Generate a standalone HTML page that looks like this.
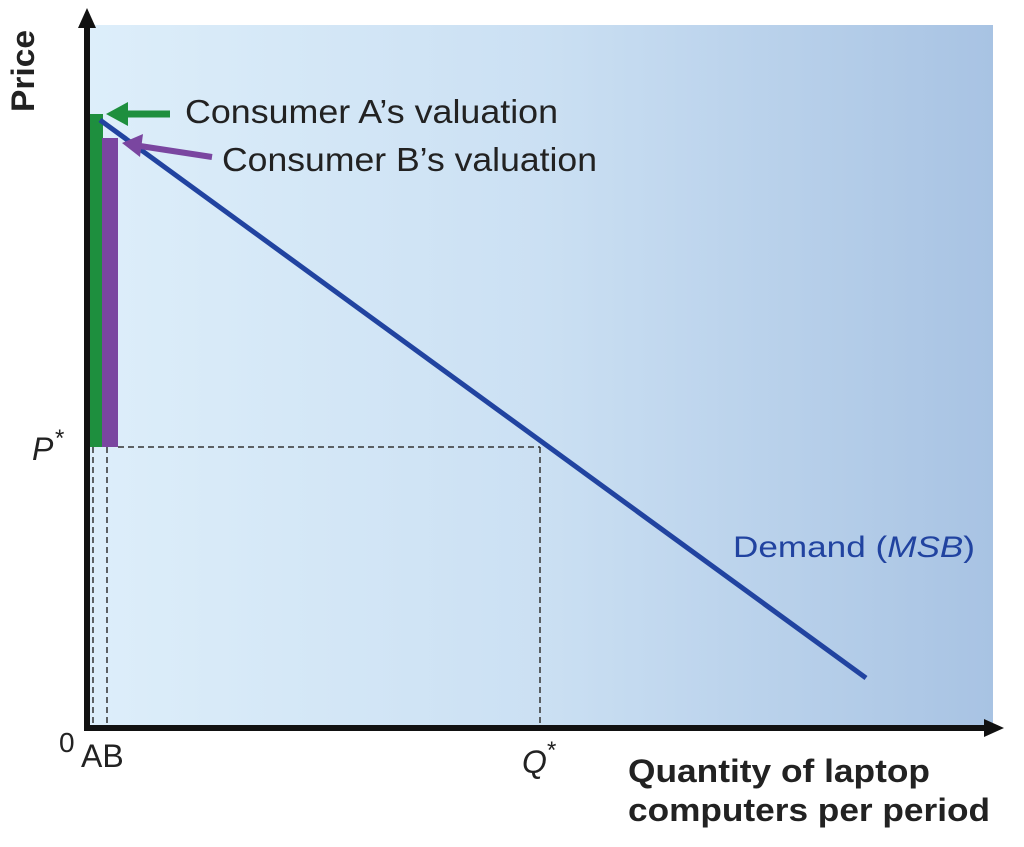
<!DOCTYPE html>
<html><head><style>body{margin:0;background:#fff}svg{display:block}</style></head><body>
<svg width="1024" height="847" viewBox="0 0 1024 847" font-family="Liberation Sans, Arial, sans-serif">
<defs><linearGradient id="g" x1="0" x2="1" y1="0" y2="0"><stop offset="0" stop-color="#ddeefa"/><stop offset="0.5" stop-color="#cbe0f3"/><stop offset="1" stop-color="#a8c3e3"/></linearGradient></defs>
<rect x="89" y="25" width="904" height="701" fill="url(#g)"/>
<g stroke="#333" stroke-width="1.5" stroke-dasharray="6,4" fill="none">
<line x1="118" y1="447" x2="540" y2="447"/>
<line x1="540" y1="447" x2="540" y2="726"/>
<line x1="93" y1="447" x2="93" y2="726"/>
<line x1="107" y1="447" x2="107" y2="726"/>
</g>
<rect x="86" y="114" width="17" height="333" fill="#1e8f3e"/>
<rect x="102" y="138" width="16" height="309" fill="#7a46a0"/>
<line x1="100" y1="120" x2="866" y2="678" stroke="#2143a0" stroke-width="5"/>
<line x1="87" y1="730" x2="87" y2="22" stroke="#111" stroke-width="6"/>
<polygon points="87,8 78,28 96,28" fill="#111"/>
<line x1="84" y1="728" x2="990" y2="728" stroke="#111" stroke-width="6"/>
<polygon points="1004,728 984,719 984,737" fill="#111"/>
<line x1="170" y1="114" x2="125" y2="114" stroke="#1e8f3e" stroke-width="7"/>
<polygon points="106,114 128,102 128,126" fill="#1e8f3e"/>
<line x1="212" y1="157" x2="140" y2="146" stroke="#7a46a0" stroke-width="6"/>
<polygon points="122,143 143,134 140,157" fill="#7a46a0"/>
<text x="185" y="123" font-size="33" fill="#222" textLength="373" lengthAdjust="spacingAndGlyphs">Consumer A’s valuation</text>
<text x="222" y="171" font-size="33" fill="#222" textLength="375" lengthAdjust="spacingAndGlyphs">Consumer B’s valuation</text>
<text transform="translate(34,112) rotate(-90)" font-size="32" font-weight="bold" fill="#222" textLength="82" lengthAdjust="spacingAndGlyphs">Price</text>
<text x="32" y="460" font-size="32" font-style="italic" fill="#222">P</text><text x="55" y="446" font-size="24" fill="#222">*</text>
<text x="522" y="773" font-size="32" font-style="italic" fill="#222">Q</text><text x="547" y="758" font-size="24" fill="#222">*</text>
<text x="59" y="752" font-size="28" fill="#222">0</text>
<text x="81" y="767" font-size="32" fill="#222">AB</text>
<text x="733" y="557" font-size="30" fill="#2143a0" textLength="242" lengthAdjust="spacingAndGlyphs">Demand (<tspan font-style="italic">MSB</tspan>)</text>
<text x="628" y="782" font-size="32" font-weight="bold" fill="#222" textLength="302" lengthAdjust="spacingAndGlyphs">Quantity of laptop</text>
<text x="628" y="821" font-size="32" font-weight="bold" fill="#222" textLength="362" lengthAdjust="spacingAndGlyphs">computers per period</text>
</svg>
</body></html>
